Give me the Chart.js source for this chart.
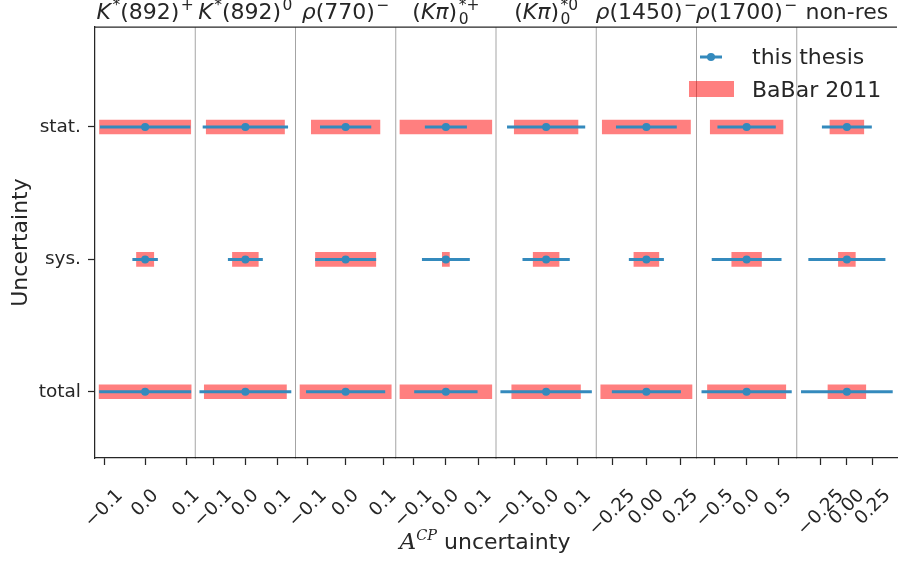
<!DOCTYPE html>
<html>
<head>
<meta charset="utf-8">
<script src="https://cdn.jsdelivr.net/npm/chart.js@4.4.0/dist/chart.umd.min.js"></script>
<style>
  html, body { margin: 0; padding: 0; background: #fff; overflow: hidden; }
  #wrap { width: 901px; height: 565px; }
</style>
</head>
<body>
<div id="wrap"><canvas id="chart" width="901" height="565"></canvas></div>
<script>
// uncertainty kinds, top to bottom
const categories = ['stat.', 'sys.', 'total'];
const seriesNames = ['this thesis', 'BaBar 2011'];

// panel titles as [text, style, stacked-superscript]
const panelTitles = [
    [['K', 'i'], ['*', 'sup'], ['(892)', 'n'], ['+', 'sup']],
    [['K', 'i'], ['*', 'sup'], ['(892)', 'n'], ['0', 'sup']],
    [['ρ', 'i'], ['(770)', 'n'], ['−', 'sup']],
    [['(', 'n'], ['Kπ', 'i'], [')', 'n'], ['0', 'sub', '*+']],
    [['(', 'n'], ['Kπ', 'i'], [')', 'n'], ['0', 'sub', '*0']],
    [['ρ', 'i'], ['(1450)', 'n'], ['−', 'sup']],
    [['ρ', 'i'], ['(1700)', 'n'], ['−', 'sup']],
    [['non-res', 'n']]
];

// both results are drawn around zero
const centralValue = 0;

// half widths of the A_CP uncertainties, one value per panel
const thesisStat  = [0.110, 0.132, 0.068, 0.065, 0.124, 0.222, 0.460, 0.239];
const thesisSys   = [0.031, 0.054, 0.081, 0.074, 0.075, 0.128, 0.550, 0.369];
const thesisTotal = [0.112, 0.142, 0.105, 0.098, 0.145, 0.252, 0.711, 0.439];
const babarStat   = [0.111, 0.121, 0.091, 0.142, 0.101, 0.322, 0.573, 0.162];
const babarSys    = [0.021, 0.040, 0.080, 0.011, 0.041, 0.091, 0.234, 0.081];
const babarTotal  = [0.112, 0.127, 0.121, 0.142, 0.109, 0.333, 0.617, 0.181];

// symmetric x range of each panel
const panelLimits = [0.122, 0.155, 0.133, 0.155, 0.159, 0.366, 0.790, 0.480];

const tickValues = [
    [-0.1, 0, 0.1], [-0.1, 0, 0.1], [-0.1, 0, 0.1], [-0.1, 0, 0.1],
    [-0.1, 0, 0.1], [-0.25, 0, 0.25], [-0.5, 0, 0.5], [-0.25, 0, 0.25]
];
const tickLabels = [
    ['−0.1', '0.0', '0.1'], ['−0.1', '0.0', '0.1'], ['−0.1', '0.0', '0.1'], ['−0.1', '0.0', '0.1'],
    ['−0.1', '0.0', '0.1'], ['−0.25', '0.00', '0.25'], ['−0.5', '0.0', '0.5'], ['−0.25', '0.00', '0.25']
];

const textColor = '#262626';
const blue = '#348ABD';
const red = 'rgba(255, 0, 0, 0.5)';
const FAMILY = '"DejaVu Sans"';

Chart.defaults.font.family = 'DejaVu Sans';
Chart.defaults.color = textColor;

const yOf = i => categories.length - 1 - i;   // stat. on top
const thesisErr = [thesisStat, thesisSys, thesisTotal];
const babarErr = [babarStat, babarSys, babarTotal];

const scales = {
    y: {
        type: 'linear', min: -0.5, max: 2.755, offset: false,
        afterBuildTicks: s => { s.ticks = categories.map((c, i) => ({ value: yOf(i) })); },
        afterFit: s => { s.width = 95; },
        ticks: { font: { size: 18.5 }, color: textColor, padding: 7, callback: v => categories[yOf(v)] },
        grid: { drawOnChartArea: false, offset: false, tickLength: 7, tickWidth: 1.25, tickColor: textColor },
        border: { color: textColor, width: 1.25 },
        title: { display: true, text: 'Uncertainty', font: { size: 22 }, color: textColor, padding: { top: 8, bottom: 0 } }
    }
};

const datasets = [];
panelLimits.forEach((lim, p) => {
    const xAxisID = 'x' + p;
    scales[xAxisID] = {
        type: 'linear', position: 'bottom', stack: 'panels', stackWeight: 1,
        min: -lim, max: lim,
        afterBuildTicks: s => { s.ticks = tickValues[p].map(v => ({ value: v })); },
        afterFit: s => { s.height = 107; },
        ticks: { display: false },
        grid: { drawOnChartArea: false, tickLength: 7, tickWidth: 1.25, tickColor: textColor },
        border: { color: textColor, width: 1.25 }
    };

    // BaBar 2011 band
    datasets.push({
        type: 'bar', label: seriesNames[1], xAxisID, yAxisID: 'y', indexAxis: 'y',
        data: categories.map((c, i) => ({ x: [centralValue - babarErr[i][p], centralValue + babarErr[i][p]], y: yOf(i) })),
        backgroundColor: red, borderWidth: 0, barThickness: 14, grouped: false, order: 3
    });

    // this thesis error bars
    categories.forEach((c, i) => {
        datasets.push({
            type: 'line', label: seriesNames[0], xAxisID, yAxisID: 'y',
            data: [
                { x: centralValue - thesisErr[i][p], y: yOf(i) },
                { x: centralValue + thesisErr[i][p], y: yOf(i) }
            ],
            borderColor: blue, borderWidth: 3, pointRadius: 0, fill: false, order: 2
        });
    });

    datasets.push({
        type: 'scatter', label: seriesNames[0], xAxisID, yAxisID: 'y',
        data: categories.map((c, i) => ({ x: centralValue, y: yOf(i) })),
        pointRadius: 4, backgroundColor: blue, borderWidth: 0, order: 1
    });
});

// panel titles with super/subscripts
function drawTitle(ctx, segs, cx, baseline) {
    const big = `22px ${FAMILY}`, bigIt = `italic 22px ${FAMILY}`, small = `15.5px ${FAMILY}`;
    const items = [];
    let w = 0;
    segs.forEach(([text, style, above]) => {
        if (style === 'sup' || style === 'sub') {
            ctx.font = small;
            const lowW = ctx.measureText(text).width;
            const highW = above ? ctx.measureText(above).width : 0;
            items.push({ text, x: w + 1.5, dy: style === 'sup' ? -9 : 5, font: small });
            if (above) items.push({ text: above, x: w + 1.5, dy: -9.5, font: small });
            w += Math.max(lowW, highW) + 1.5;
        } else {
            const font = style === 'i' ? bigIt : big;
            ctx.font = font;
            items.push({ text, x: w, dy: 0, font });
            w += ctx.measureText(text).width;
        }
    });
    const x0 = cx - w / 2;
    ctx.textAlign = 'left';
    ctx.textBaseline = 'alphabetic';
    items.forEach(it => {
        ctx.font = it.font;
        ctx.fillText(it.text, x0 + it.x, baseline + it.dy);
    });
}

const panelDecor = {
    id: 'panelDecor',
    beforeDatasetsDraw(chart) {
        const { ctx, chartArea: a } = chart;
        ctx.save();
        ctx.strokeStyle = 'rgba(0, 0, 0, 0.4)';
        ctx.lineWidth = 0.9;
        for (let p = 1; p < panelLimits.length; p++) {
            const x = chart.scales['x' + p].left;
            ctx.beginPath();
            ctx.moveTo(x, a.top);
            ctx.lineTo(x, a.bottom);
            ctx.stroke();
        }
        ctx.strokeStyle = textColor;
        ctx.lineWidth = 1.25;
        ctx.beginPath();
        ctx.moveTo(a.left, a.top);
        ctx.lineTo(a.right, a.top);
        ctx.stroke();
        ctx.restore();
    },
    afterDraw(chart) {
        const { ctx, chartArea: a } = chart;
        ctx.save();
        ctx.fillStyle = textColor;

        panelLimits.forEach((lim, p) => {
            const s = chart.scales['x' + p];
            drawTitle(ctx, panelTitles[p], (s.left + s.right) / 2, 19);

            // rotated tick labels, centred under each tick
            ctx.font = `18.5px ${FAMILY}`;
            ctx.textAlign = 'center';
            ctx.textBaseline = 'middle';
            tickValues[p].forEach((v, k) => {
                const label = tickLabels[p][k];
                const w = ctx.measureText(label).width;
                const x = s.getPixelForValue(v);
                const y = a.bottom + 30 + 0.707 * (w / 2 + 6.7);
                ctx.save();
                ctx.translate(x, y);
                ctx.rotate(-Math.PI / 4);
                ctx.fillText(label, 0, 0);
                ctx.restore();
            });
        });

        // x axis title
        const parts = [
            { t: 'A', f: `italic 23px "DejaVu Serif"`, dy: 0 },
            { t: 'CP', f: `italic 14.5px "DejaVu Serif"`, dy: -9 },
            { t: ' uncertainty', f: `22px ${FAMILY}`, dy: 0 }
        ];
        let tw = 0;
        parts.forEach(pt => { ctx.font = pt.f; pt.w = ctx.measureText(pt.t).width; tw += pt.w; });
        let tx = 485 - tw / 2;
        ctx.textAlign = 'left';
        ctx.textBaseline = 'alphabetic';
        parts.forEach(pt => { ctx.font = pt.f; ctx.fillText(pt.t, tx, 549 + pt.dy); tx += pt.w; });

        // legend
        ctx.strokeStyle = blue;
        ctx.lineWidth = 3;
        ctx.beginPath();
        ctx.moveTo(700, 57);
        ctx.lineTo(722, 57);
        ctx.stroke();
        ctx.fillStyle = blue;
        ctx.beginPath();
        ctx.arc(711, 57, 4, 0, Math.PI * 2);
        ctx.fill();
        ctx.fillStyle = red;
        ctx.fillRect(689, 81, 45, 16);
        ctx.fillStyle = textColor;
        ctx.font = `22px ${FAMILY}`;
        ctx.fillText(seriesNames[0], 752, 64);
        ctx.fillText(seriesNames[1], 752, 97);
        ctx.restore();
    }
};

new Chart(document.getElementById('chart'), {
    type: 'scatter',
    data: { datasets },
    options: {
        responsive: false,
        animation: false,
        events: [],
        layout: { padding: { top: 27, left: 0, right: 0, bottom: 0 } },
        scales,
        plugins: {
            legend: { display: false },
            tooltip: { enabled: false }
        }
    },
    plugins: [panelDecor]
});
</script>
</body>
</html>
